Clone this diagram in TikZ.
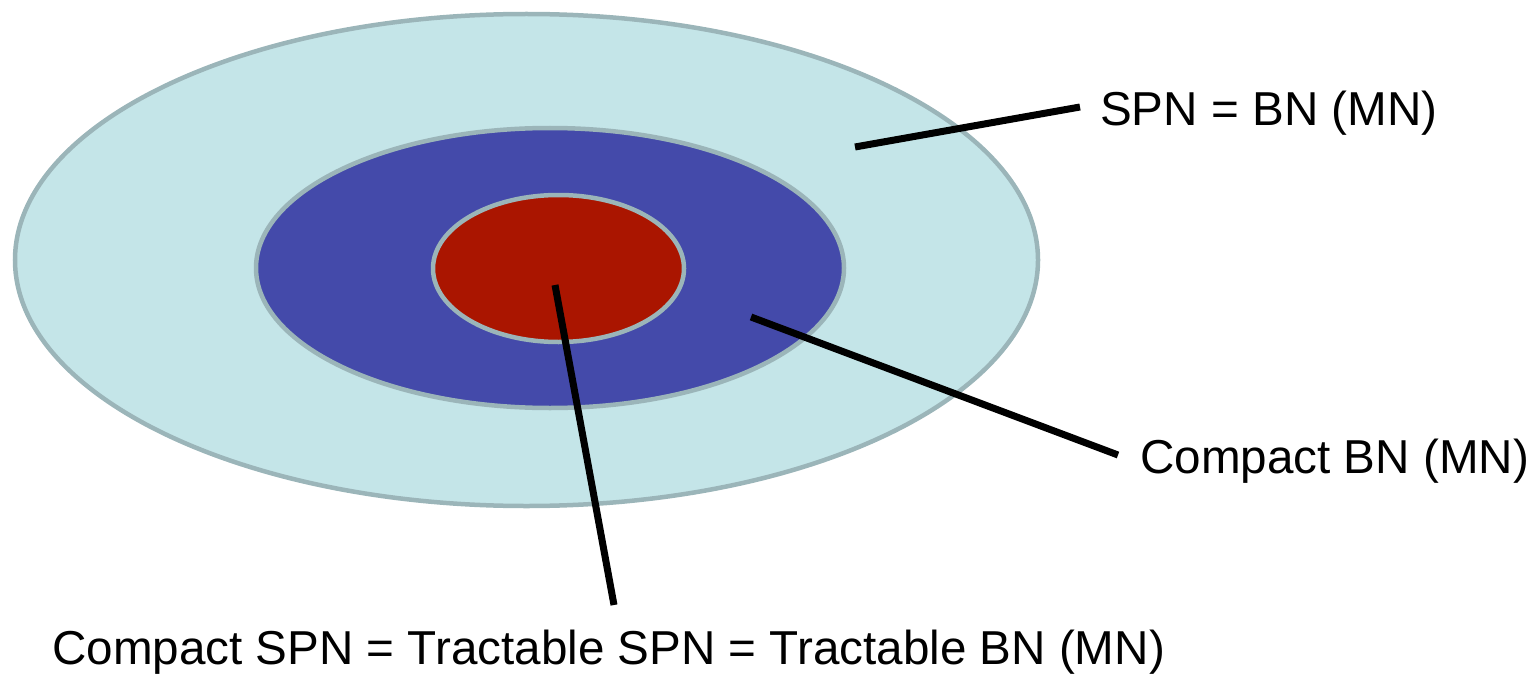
\documentclass[tikz,border=0pt]{standalone}
\usepackage{fontspec}
\setmainfont{Liberation Sans}
\usetikzlibrary{shapes.geometric}
\definecolor{ringgray}{HTML}{9BB5B9}
\definecolor{lightcyan}{HTML}{C4E5E8}
\definecolor{midblue}{HTML}{444AAA}
\definecolor{corered}{HTML}{AA1500}
\tikzset{
  ring/.style={ellipse, draw=ringgray, line width=4.5pt, inner sep=0pt},
  leader/.style={line width=7pt, black},
  lab/.style={anchor=base west, inner sep=0pt, font=\fontsize{47.6}{57}\selectfont}
}
\begin{document}
\begin{tikzpicture}[x=1pt,y=-1pt]
\useasboundingbox (0,0) rectangle (1539,674);
\node[ring, fill=lightcyan, minimum width=1023pt, minimum height=492pt] (outer) at (526.5,260) {};
\node[ring, fill=midblue, minimum width=588pt, minimum height=280pt] (middle) at (550,268) {};
\node[ring, fill=corered, minimum width=251pt, minimum height=147pt] (inner) at (558.5,268.5) {};
\node[lab] (l1) at (1100,126) {SPN = BN (MN)};
\node[lab] (l2) at (1140,473) {Compact BN (MN)};
\node[lab] (l3) at (52,664) {Compact SPN = Tractable SPN = Tractable BN (MN)};
\coordinate (a1) at (855,147);
\coordinate (b1) at (1080,107);
\coordinate (a2) at (751,317);
\coordinate (b2) at (1118,455);
\coordinate (a3) at (555,285);
\coordinate (b3) at (614,605);
\draw[leader] (a1) -- (b1);
\draw[leader] (a2) -- (b2);
\draw[leader] (a3) -- (b3);
\end{tikzpicture}
\end{document}
